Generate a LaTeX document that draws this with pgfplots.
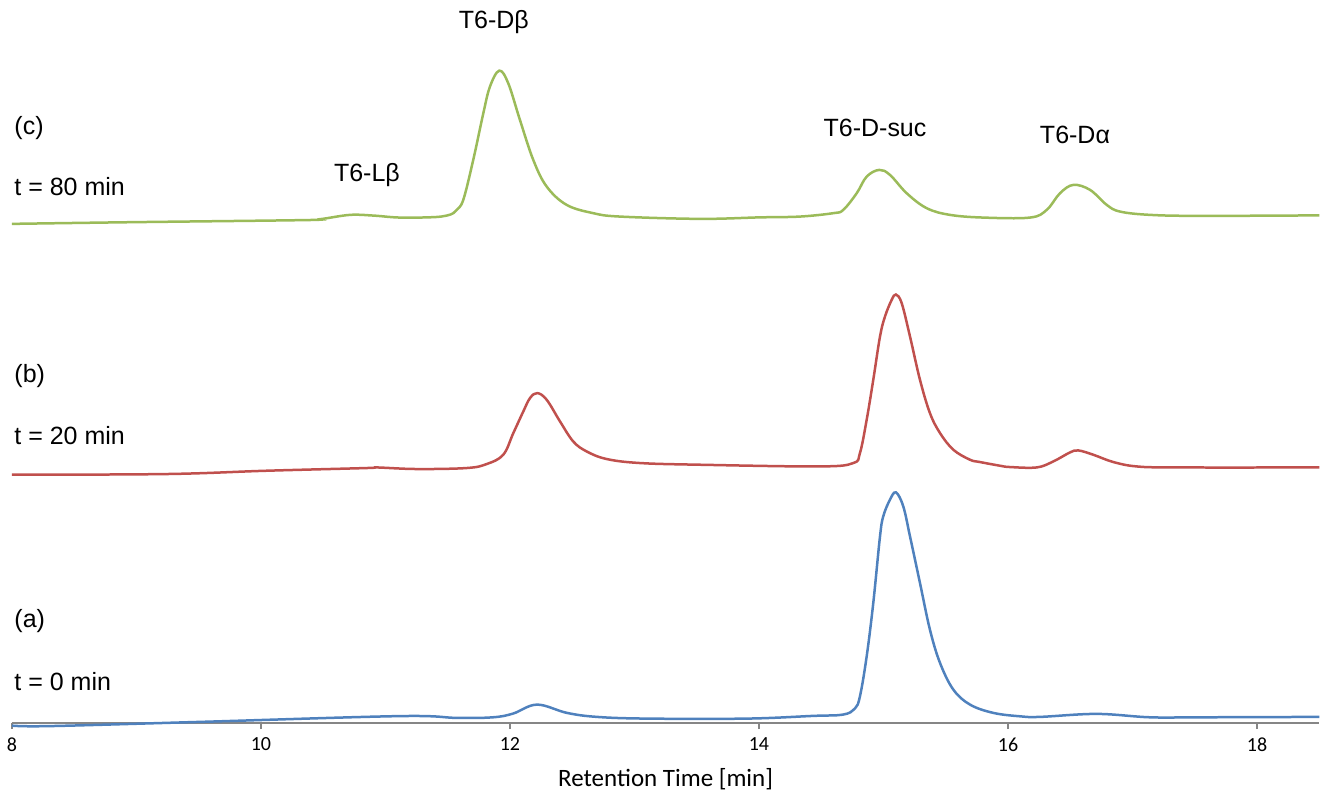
\documentclass[border=0pt]{standalone}
\usepackage{fontspec}
\setmainfont{Liberation Sans}
\newfontfamily\calibri{Carlito}
\usepackage{pgfplots}
\pgfplotsset{compat=1.18}
\definecolor{cblue}{HTML}{4F81BD}
\definecolor{cred}{HTML}{C0504D}
\definecolor{cgreen}{HTML}{9BBB59}
\definecolor{axgray}{HTML}{868686}
\begin{document}
\begin{tikzpicture}
\begin{axis}[
  scale only axis,
  width=523.2pt, height=289.2pt,
  xmin=8, xmax=18.5, ymin=0, ymax=723,
  axis x line=bottom, axis y line=none,
  x axis line style={-, draw=axgray, line width=0.8pt},
  xtick={8,10,12,14,16,18},
  major tick length=2.6pt,
  tick align=outside,
  xtick style={draw=axgray, line width=0.8pt},
  /pgf/number format/assume math mode=true,
  ticklabel style={font=\calibri\fontsize{8}{9}\selectfont},
  xlabel={Retention Time [min]},
  xlabel style={font=\calibri\fontsize{10}{12}\selectfont},
  clip=false,
  every axis plot/.append style={line width=1pt, smooth, tension=0.6},
]
% (a) t = 0 min
\addplot[cblue] coordinates {
(8.000,-3) (8.305,-3.5) (9.510,0.7) (11.116,6.5) (11.574,4.7) (11.863,5.3) (12.024,9) (12.217,18) (12.458,9.7) (12.699,5.7) (13.100,4) (13.904,4) (14.434,6.7) (14.675,8) (14.770,14) (14.811,26.3) (14.865,66.3) (14.918,119.7) (14.972,186.3) (14.998,206.3) (15.052,223) (15.100,230.3) (15.159,216.3) (15.213,186.3) (15.293,139.7) (15.373,93) (15.454,59.7) (15.561,33) (15.695,18) (15.882,9.7) (16.096,6.3) (16.257,5.7) (16.712,8.7) (17.141,5.3) (17.542,5.3) (18.5,5.7)
};
% (b) t = 20 min
\addplot[cred] coordinates {
(8.000,248) (9.243,248.7) (10.046,252) (10.849,254.7) (10.929,255.3) (11.251,253.7) (11.652,254.7) (11.813,258.7) (11.946,268) (12.027,289.7) (12.107,311.3) (12.161,324.7) (12.219,329.7) (12.295,323) (12.402,301.3) (12.508,281.3) (12.616,271.3) (12.777,263.7) (13.044,259.7) (13.526,258) (14.490,256.3) (14.757,259.7) (14.811,269.7) (14.865,303) (14.918,343) (14.972,386.3) (15.012,406.3) (15.066,423) (15.100,428.3) (15.146,419.7) (15.213,386.3) (15.293,343) (15.373,309.7) (15.454,289.7) (15.561,273) (15.695,263) (15.775,260.7) (15.936,257) (16.016,255.7) (16.231,255.3) (16.364,261.3) (16.498,270.3) (16.565,272.3) (16.685,268) (16.846,260.7) (17.034,256.3) (17.355,255.3) (18.5,255.3)
};
% (c) t = 80 min
\addplot[cgreen] coordinates {
(8.000,499) (8.974,500.7) (10.313,502.7) (10.474,503.7) (10.715,508) (10.902,507.3) (11.116,505.3) (11.384,505.7) (11.492,507.3) (11.545,509.7) (11.572,513) (11.625,523) (11.705,563) (11.786,609.7) (11.839,636.3) (11.914,652.3) (11.986,639.7) (12.080,603) (12.187,563) (12.295,536.3) (12.455,518) (12.669,509.7) (12.884,506.3) (13.526,504) (14.008,505.5) (14.329,506.3) (14.597,509.7) (14.677,513) (14.785,529.7) (14.865,546.3) (14.966,553) (15.052,548) (15.186,529.7) (15.347,514.7) (15.534,508) (15.802,505.3) (16.177,505.3) (16.311,513) (16.418,529.7) (16.525,538) (16.659,533) (16.793,518) (16.900,511.3) (17.141,508) (17.542,507) (18.5,507.5)
};
\node at (axis cs:11.871,701) {T6-Dβ};
\node at (axis cs:10.851,548) {T6-Lβ};
\node at (axis cs:14.932,595) {T6-D-suc};
\node at (axis cs:16.538,588) {T6-Dα};
\node[anchor=west, inner sep=0pt] at (axis cs:8.016,595) {(c)};
\node[anchor=west, inner sep=0pt] at (axis cs:8.016,536) {t = 80 min};
\node[anchor=west, inner sep=0pt] at (axis cs:8.016,347) {(b)};
\node[anchor=west, inner sep=0pt] at (axis cs:8.016,287) {t = 20 min};
\node[anchor=west, inner sep=0pt] at (axis cs:8.016,102) {(a)};
\node[anchor=west, inner sep=0pt] at (axis cs:8.016,41) {t = 0 min};
\coordinate (bbsw) at (axis cs:7.904,-76);
\coordinate (bbne) at (axis cs:18.514,723);
\end{axis}
\pgfresetboundingbox
\path[use as bounding box] (bbsw) rectangle (bbne);
\end{tikzpicture}
\end{document}
